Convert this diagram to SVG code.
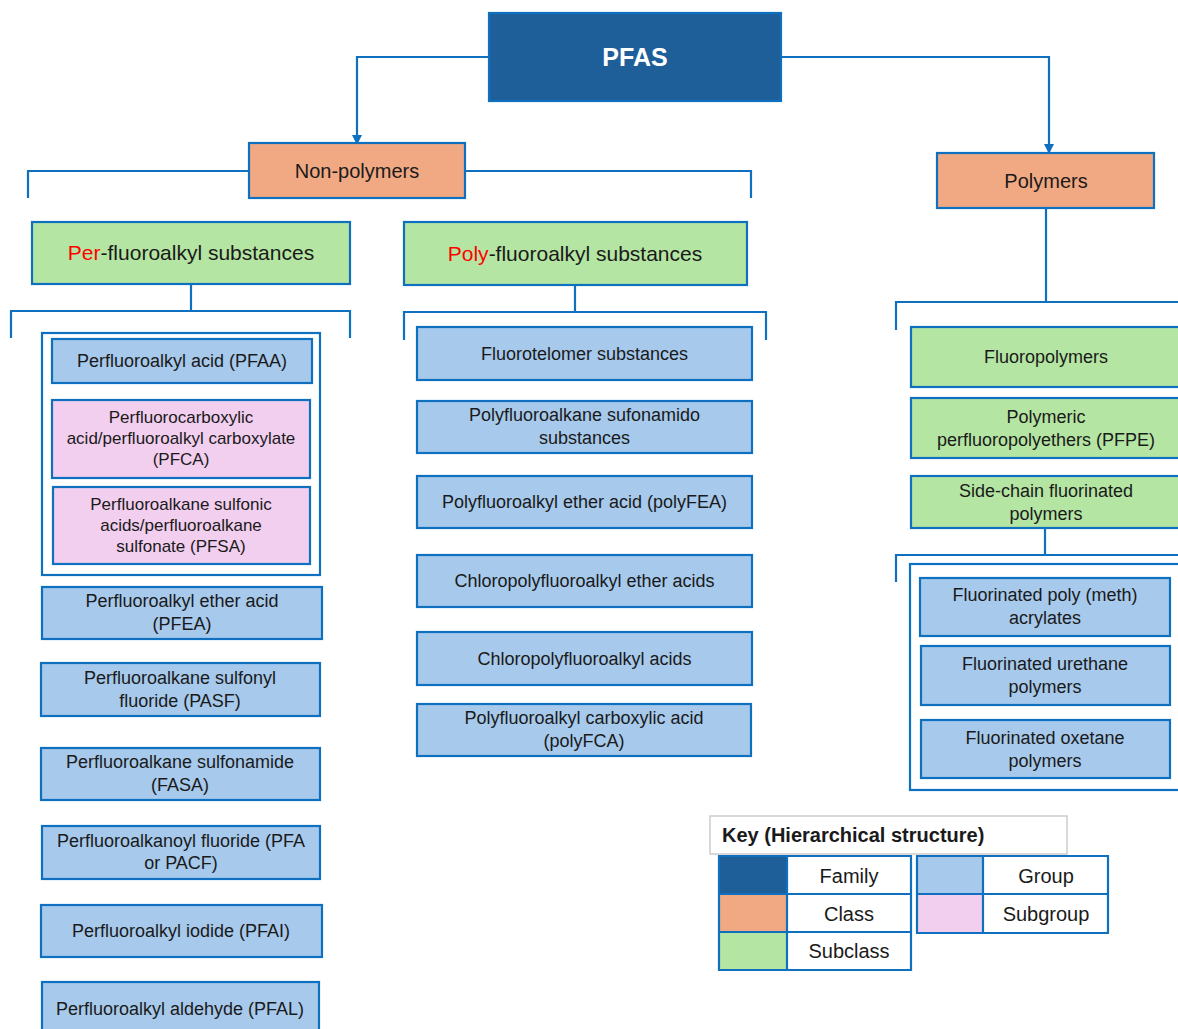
<svg xmlns="http://www.w3.org/2000/svg" width="1178" height="1029" viewBox="0 0 1178 1029">
<style>
text{font-family:"Liberation Sans",Arial,sans-serif;fill:#1a1a1a;text-anchor:middle}
.bx{stroke:#1070C0;stroke-width:2.2}
.fam{fill:#1F5F99}
.cls{fill:#F1A983}
.sub{fill:#B4E5A2}
.grp{fill:#A6C9EC}
.sgp{fill:#F2CEEF}
.wh{fill:#ffffff}
.t20{font-size:20px}
.t21{font-size:21px}
.t18{font-size:18px}
.t17{font-size:17px}
.red{fill:#FF0000}
.con{fill:none;stroke:#1070C0;stroke-width:2.2}
.key{font-size:20px}
</style>
<defs>
<marker id="arr" markerUnits="userSpaceOnUse" markerWidth="10" markerHeight="10" refX="9" refY="5" orient="auto" viewBox="0 0 10 10">
<path d="M0,0 L10,5 L0,10 Z" fill="#1070C0"/>
</marker>
</defs>
<rect width="1178" height="1029" fill="#ffffff"/>

<g id="connectors">
<path class="con" d="M489,57 H357 V144" marker-end="url(#arr)"/>
<path class="con" d="M781,57 H1049 V153" marker-end="url(#arr)"/>
<path class="con" d="M28,198 V171 H249 M465,171 H751 V198"/>
<path class="con" d="M191,284 V311 M11,338 V311 H350 V338"/>
<path class="con" d="M575,285 V312 M404,340 V312 H766 V340"/>
<path class="con" d="M1046,208 V302 M896,330 V302 H1180"/>
<path class="con" d="M1045,528 V555 M896,582 V555 H1180"/>
</g>

<g id="pfas"><rect class="bx fam" x="489" y="13" width="292" height="88"/><text x="635" y="66" style="font-size:25px;font-weight:bold;fill:#ffffff">PFAS</text></g>
<g id="non-polymers"><rect class="bx cls" x="249" y="143" width="216" height="55"/><text class="t20" x="357" y="178">Non-polymers</text></g>
<g id="polymers"><rect class="bx cls" x="937" y="153" width="217" height="55"/><text class="t20" x="1046" y="188">Polymers</text></g>

<g id="per-fluoroalkyl"><rect class="bx sub" x="32" y="222" width="318" height="62"/><text class="t21" x="191" y="260"><tspan class="red">Per</tspan>-fluoroalkyl substances</text></g>
<g id="poly-fluoroalkyl"><rect class="bx sub" x="404" y="222" width="343" height="63"/><text class="t21" x="575" y="261"><tspan class="red">Poly</tspan>-fluoroalkyl substances</text></g>

<g id="pfaa-container"><rect class="bx wh" x="42" y="333" width="278" height="242"/></g>
<g id="pfaa"><rect class="bx grp" x="52" y="339" width="260" height="44"/><text class="t18" x="182" y="367">Perfluoroalkyl acid (PFAA)</text></g>
<g id="pfca"><rect class="bx sgp" x="52" y="400" width="258" height="78"/><text class="t17" x="181"><tspan x="181" y="423">Perfluorocarboxylic</tspan><tspan x="181" y="444">acid/perfluoroalkyl carboxylate</tspan><tspan x="181" y="465">(PFCA)</tspan></text></g>
<g id="pfsa"><rect class="bx sgp" x="53" y="487" width="257" height="77"/><text class="t17" x="181"><tspan x="181" y="510">Perfluoroalkane sulfonic</tspan><tspan x="181" y="531">acids/perfluoroalkane</tspan><tspan x="181" y="552">sulfonate (PFSA)</tspan></text></g>
<g id="pfea"><rect class="bx grp" x="42" y="587" width="280" height="52"/><text class="t18" x="182"><tspan x="182" y="607">Perfluoroalkyl ether acid</tspan><tspan x="182" y="630">(PFEA)</tspan></text></g>
<g id="pasf"><rect class="bx grp" x="41" y="663" width="279" height="53"/><text class="t18" x="180"><tspan x="180" y="684">Perfluoroalkane sulfonyl</tspan><tspan x="180" y="707">fluoride (PASF)</tspan></text></g>
<g id="fasa"><rect class="bx grp" x="41" y="748" width="279" height="52"/><text class="t18" x="180"><tspan x="180" y="768">Perfluoroalkane sulfonamide</tspan><tspan x="180" y="791">(FASA)</tspan></text></g>
<g id="pfa"><rect class="bx grp" x="42" y="826" width="278" height="53"/><text class="t18" x="181"><tspan x="181" y="847">Perfluoroalkanoyl fluoride (PFA</tspan><tspan x="181" y="869">or PACF)</tspan></text></g>
<g id="pfai"><rect class="bx grp" x="41" y="905" width="281" height="52"/><text class="t18" x="181" y="937">Perfluoroalkyl iodide (PFAI)</text></g>
<g id="pfal"><rect class="bx grp" x="42" y="982" width="277" height="55"/><text class="t18" x="180" y="1015">Perfluoroalkyl aldehyde (PFAL)</text></g>

<g id="fluorotelomer"><rect class="bx grp" x="417" y="327" width="335" height="53"/><text class="t18" x="584.5" y="360">Fluorotelomer substances</text></g>
<g id="sufonamido"><rect class="bx grp" x="417" y="401" width="335" height="52"/><text class="t18" x="584.5"><tspan x="584.5" y="421">Polyfluoroalkane sufonamido</tspan><tspan x="584.5" y="444">substances</tspan></text></g>
<g id="polyfea"><rect class="bx grp" x="417" y="476" width="335" height="52"/><text class="t18" x="584.5" y="508">Polyfluoroalkyl ether acid (polyFEA)</text></g>
<g id="chloro-ether"><rect class="bx grp" x="417" y="555" width="335" height="52"/><text class="t18" x="584.5" y="587">Chloropolyfluoroalkyl ether acids</text></g>
<g id="chloro-acids"><rect class="bx grp" x="417" y="632" width="335" height="53"/><text class="t18" x="584.5" y="665">Chloropolyfluoroalkyl acids</text></g>
<g id="polyfca"><rect class="bx grp" x="417" y="704" width="334" height="52"/><text class="t18" x="584"><tspan x="584" y="724">Polyfluoroalkyl carboxylic acid</tspan><tspan x="584" y="747">(polyFCA)</tspan></text></g>

<g id="fluoropolymers"><rect class="bx sub" x="911" y="327" width="272" height="60"/><text class="t18" x="1046" y="363">Fluoropolymers</text></g>
<g id="pfpe"><rect class="bx sub" x="911" y="398" width="272" height="60"/><text class="t18" x="1046"><tspan x="1046" y="423">Polymeric</tspan><tspan x="1046" y="446">perfluoropolyethers (PFPE)</tspan></text></g>
<g id="side-chain"><rect class="bx sub" x="911" y="476" width="272" height="52"/><text class="t18" x="1046"><tspan x="1046" y="497">Side-chain fluorinated</tspan><tspan x="1046" y="520">polymers</tspan></text></g>
<g id="side-chain-container"><rect class="bx wh" x="910" y="564" width="273" height="226"/></g>
<g id="acrylates"><rect class="bx grp" x="920" y="578" width="250" height="58"/><text class="t18" x="1045"><tspan x="1045" y="601">Fluorinated poly (meth)</tspan><tspan x="1045" y="624">acrylates</tspan></text></g>
<g id="urethane"><rect class="bx grp" x="921" y="646" width="249" height="59"/><text class="t18" x="1045"><tspan x="1045" y="670">Fluorinated urethane</tspan><tspan x="1045" y="693">polymers</tspan></text></g>
<g id="oxetane"><rect class="bx grp" x="921" y="720" width="249" height="58"/><text class="t18" x="1045"><tspan x="1045" y="744">Fluorinated oxetane</tspan><tspan x="1045" y="767">polymers</tspan></text></g>

<g id="key">
<rect x="710" y="816" width="357" height="38" fill="#ffffff" stroke="#cccccc" stroke-width="1.5"/>
<text x="722" y="842" style="font-size:20px;font-weight:bold;text-anchor:start">Key (Hierarchical structure)</text>
<rect class="fam" x="719" y="856" width="68" height="38"/>
<rect class="cls" x="719" y="894" width="68" height="38"/>
<rect class="sub" x="719" y="932" width="68" height="38"/>
<path d="M719,856 H911 V970 H719 Z M787,856 V970 M719,894 H911 M719,932 H911" fill="none" stroke="#1070C0" stroke-width="2.2"/>
<text class="key" x="849" y="883">Family</text>
<text class="key" x="849" y="921">Class</text>
<text class="key" x="849" y="958">Subclass</text>
<rect class="grp" x="917" y="856" width="66" height="38"/>
<rect class="sgp" x="917" y="894" width="66" height="39"/>
<path d="M917,856 H1108 V933 H917 Z M983,856 V933 M917,894 H1108" fill="none" stroke="#1070C0" stroke-width="2.2"/>
<text class="key" x="1046" y="883">Group</text>
<text class="key" x="1046" y="921">Subgroup</text>
</g>
</svg>
